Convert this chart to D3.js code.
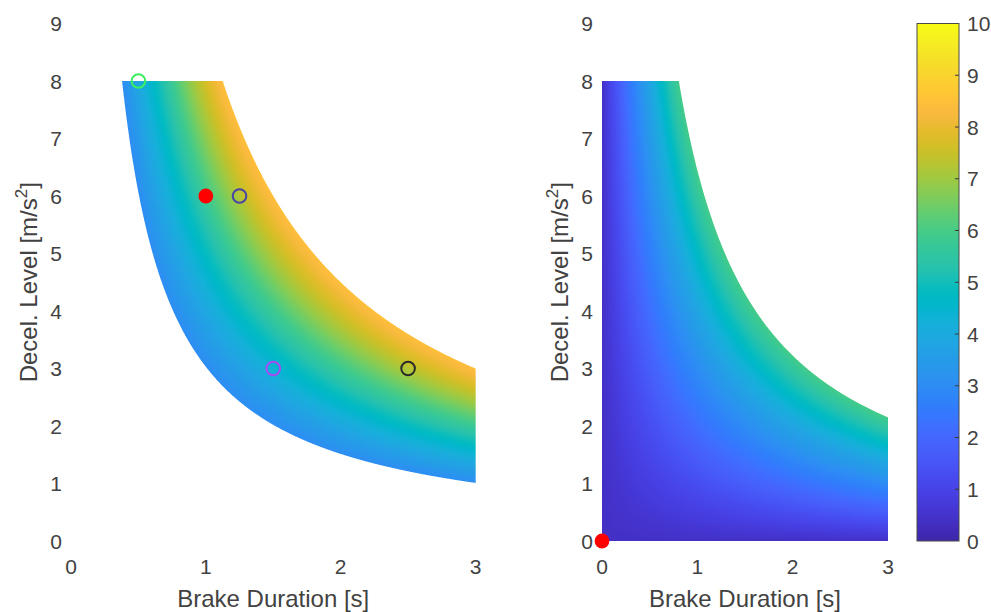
<!DOCTYPE html>
<html><head><meta charset="utf-8">
<script src="https://cdn.jsdelivr.net/npm/d3@7"></script>
<style>
body{margin:0;background:#fff}
svg{display:block}
text{font-family:"Liberation Sans",Arial,Helvetica,sans-serif;fill:#424242}
</style>
</head><body>
<svg id="chart" width="991" height="612"></svg>
<script>
// ---------------- data ----------------
const xTicks = [0, 1, 2, 3];
const yTicks = [0, 1, 2, 3, 4, 5, 6, 7, 8, 9];
const cbTicks = [0, 1, 2, 3, 4, 5, 6, 7, 8, 9, 10];
const xLabel = "Brake Duration [s]";
const yLabelMain = "Decel. Level [m/s";
const yLabelSup = "2";
const yLabelEnd = "]";

// feasible-region limits (duration × decel product)
const leftMinProduct = 3.03;
const leftMaxProduct = 9.0;
const rightMaxProduct = 6.45;
const maxDuration = 3;
const maxDecel = 8;

// colour value vs. product (read from the colour field)
const leftProduct = [3, 4, 5, 6, 7, 8, 9];
const leftValue   = [3.0, 3.9, 4.8, 5.8, 6.8, 7.7, 8.5];
const rightProduct = [0, 1, 2, 3, 4, 5, 6, 6.5];
const rightValue   = [0.4, 1.3, 2.2, 3.0, 3.8, 4.7, 5.6, 6.0];

// markers
const leftOpenX = [0.5, 1.25, 1.5, 2.5];
const leftOpenY = [8, 6, 3, 3];
const leftOpenColor = ["#3cf060", "#4a44a6", "#a64cf2", "#2b2b2b"];
const leftFilledX = [1];
const leftFilledY = [6];
const rightFilledX = [0];
const rightFilledY = [0];

// parula colormap stops
const parulaStops = ["#3e26a8","#4029b4","#422ebf","#4433cb","#4537d5","#463cde","#4741e5","#4747eb","#474cf0","#4752f4","#4758f8","#465efa","#4563fc","#4269fe","#3e6ffe","#3875fe","#327bfc","#2f81f9","#2e87f7","#2d8df4","#2b92f0","#2797eb","#259be8","#23a0e5","#20a5e3","#1ca9df","#18addb","#12b1d6","#08b4d0","#01b7ca","#02bac3","#0bbdbc","#18bfb6","#24c1ae","#2cc3a7","#31c69f","#37c897","#3fca8e","#4acb84","#57cc7a","#64cd6f","#72cd64","#80cc59","#8fcb4e","#9dc943","#abc739","#b9c431","#c5c12a","#d1bf27","#dcbd29","#e6bb2d","#efba36","#f8ba3d","#fdbd3c","#fec337","#fec933","#fccf30","#f9d52d","#f6dc2a","#f5e227","#f5e924","#f5ef20","#f7f51b","#f9fb14"];

// ---------------- layout ----------------
const svg = d3.select("#chart");
const yScale = d3.scaleLinear().domain([0, 9]).range([541, 23.5]);
const xLeft = d3.scaleLinear().domain([0, 3]).range([71, 475.5]);
const xRight = d3.scaleLinear().domain([0, 3]).range([602, 888]);
const cbScale = d3.scaleLinear().domain([0, 10]).range([541, 23.5]);
const parula = d3.piecewise(d3.interpolateRgb, parulaStops);
const colorOf = v => parula(Math.max(0, Math.min(1, v / 10)));

function valueLookup(prodArr, valArr) {
  const s = d3.scaleLinear().domain(prodArr).range(valArr).clamp(true);
  return p => s(p);
}

function fieldImage(xs, inside, valueFn) {
  const x0 = Math.floor(xs.range()[0]), x1 = Math.ceil(xs.range()[1]);
  const y0 = Math.floor(yScale.range()[1]), y1 = Math.ceil(yScale.range()[0]);
  const w = x1 - x0 + 1, h = y1 - y0 + 1;
  const cv = document.createElement("canvas");
  cv.width = w; cv.height = h;
  const ctx = cv.getContext("2d");
  const img = ctx.createImageData(w, h);
  const cache = new Map();
  const N = 3;
  for (let j = 0; j < h; j++) {
    for (let i = 0; i < w; i++) {
      let cover = 0;
      for (let a = 0; a < N; a++) for (let b = 0; b < N; b++) {
        const t = xs.invert(x0 + i + (a + 0.5) / N);
        const d = yScale.invert(y0 + j + (b + 0.5) / N);
        if (inside(t, d)) cover++;
      }
      if (!cover) continue;
      const t = xs.invert(x0 + i + 0.5), d = yScale.invert(y0 + j + 0.5);
      const v = Math.round(valueFn(Math.max(0, t) * Math.max(0, d)) * 100) / 100;
      let c = cache.get(v);
      if (!c) { c = d3.rgb(colorOf(v)); cache.set(v, c); }
      const k = (j * w + i) * 4;
      img.data[k] = c.r; img.data[k + 1] = c.g; img.data[k + 2] = c.b;
      img.data[k + 3] = Math.round(255 * cover / (N * N));
    }
  }
  ctx.putImageData(img, 0, 0);
  return { href: cv.toDataURL(), x: x0, y: y0, w, h };
}

const leftVal = valueLookup(leftProduct, leftValue);
const rightVal = valueLookup(rightProduct, rightValue);

const leftImg = fieldImage(xLeft, (t, d) => t >= 0 && t <= maxDuration && d >= 0 && d <= maxDecel && t * d >= leftMinProduct && t * d <= leftMaxProduct, leftVal);
const rightImg = fieldImage(xRight, (t, d) => t >= 0 && t <= maxDuration && d >= 0 && d <= maxDecel && t * d <= rightMaxProduct, rightVal);

[leftImg, rightImg].forEach(im => {
  svg.append("image").attr("href", im.href).attr("x", im.x).attr("y", im.y)
    .attr("width", im.w).attr("height", im.h).attr("preserveAspectRatio", "none");
});

// ---------------- axes (labels only, no lines) ----------------
function drawAxes(xs, yLabelX) {
  const g = svg.append("g");
  g.selectAll(".xt").data(xTicks).join("text")
    .attr("x", d => xs(d)).attr("y", 574).attr("text-anchor", "middle")
    .attr("font-size", 21).text(d => d);
  g.selectAll(".yt").data(yTicks).join("text")
    .attr("x", xs.range()[0] - 9).attr("y", d => yScale(d) + 7.5).attr("text-anchor", "end")
    .attr("font-size", 21).text(d => d);
  const mid = (xs.range()[0] + xs.range()[1]) / 2;
  g.append("text").attr("x", mid).attr("y", 607).attr("text-anchor", "middle")
    .attr("font-size", 24).text(xLabel);
  const yl = g.append("text")
    .attr("transform", `translate(${yLabelX},${(yScale.range()[0] + yScale.range()[1]) / 2}) rotate(-90)`)
    .attr("text-anchor", "middle").attr("font-size", 24);
  yl.append("tspan").text(yLabelMain);
  yl.append("tspan").attr("dy", -10).attr("font-size", 17).text(yLabelSup);
  yl.append("tspan").attr("dy", 10).text(yLabelEnd);
}
drawAxes(xLeft, 37);
drawAxes(xRight, 568);

// ---------------- markers ----------------
svg.append("g").selectAll("circle").data(leftOpenX.map((x, i) => ({ x, y: leftOpenY[i], c: leftOpenColor[i] })))
  .join("circle").attr("cx", d => xLeft(d.x)).attr("cy", d => yScale(d.y)).attr("r", 6.8)
  .attr("fill", "none").attr("stroke", d => d.c).attr("stroke-width", 2);
svg.append("g").selectAll("circle").data(leftFilledX.map((x, i) => ({ x, y: leftFilledY[i] })))
  .join("circle").attr("cx", d => xLeft(d.x)).attr("cy", d => yScale(d.y)).attr("r", 7.4)
  .attr("fill", "#ff0000");
svg.append("g").selectAll("circle").data(rightFilledX.map((x, i) => ({ x, y: rightFilledY[i] })))
  .join("circle").attr("cx", d => xRight(d.x)).attr("cy", d => yScale(d.y)).attr("r", 7.4)
  .attr("fill", "#ff0000");

// ---------------- colorbar ----------------
const defs = svg.append("defs");
const grad = defs.append("linearGradient").attr("id", "cbGrad")
  .attr("x1", 0).attr("y1", 1).attr("x2", 0).attr("y2", 0);
grad.selectAll("stop").data(parulaStops).join("stop")
  .attr("offset", (d, i) => i / (parulaStops.length - 1)).attr("stop-color", d => d);
const cbX0 = 917, cbX1 = 959;
svg.append("rect").attr("x", cbX0).attr("y", cbScale(10)).attr("width", cbX1 - cbX0)
  .attr("height", cbScale(0) - cbScale(10)).attr("fill", "url(#cbGrad)")
  .attr("stroke", "#4a4a4a").attr("stroke-width", 1);
svg.append("g").selectAll("line").data(cbTicks.slice(1, -1)).join("line")
  .attr("x1", cbX1 - 4).attr("x2", cbX1).attr("y1", d => cbScale(d)).attr("y2", d => cbScale(d))
  .attr("stroke", "#3a3a3a").attr("stroke-width", 1);
svg.append("g").selectAll("text").data(cbTicks).join("text")
  .attr("x", 967).attr("y", d => cbScale(d) + 7.5).attr("font-size", 21).text(d => d);
</script>
</body></html>
